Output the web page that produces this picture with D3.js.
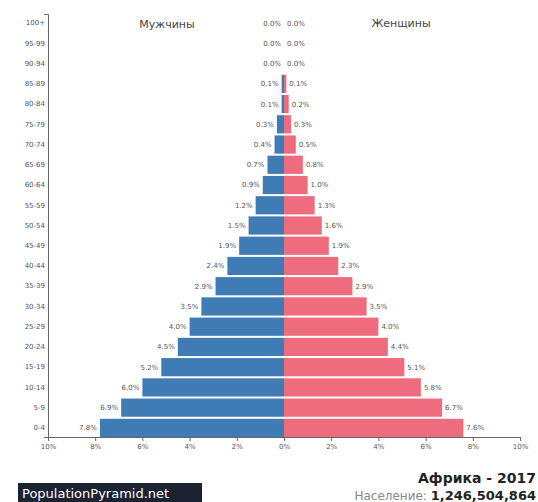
<!DOCTYPE html>
<html>
<head>
<meta charset="utf-8">
<script src="https://cdn.jsdelivr.net/npm/d3@7"></script>
<style>
 body { margin: 0; background: #fff; }
 text { font-family: "DejaVu Sans", sans-serif; }
</style>
</head>
<body>
<div id="chart"></div>
<script>
var ages = ["100+", "95-99", "90-94", "85-89", "80-84", "75-79", "70-74", "65-69", "60-64",
 "55-59", "50-54", "45-49", "40-44", "35-39", "30-34", "25-29", "20-24", "15-19", "10-14", "5-9", "0-4"];
var male = [0.0, 0.0, 0.0, 0.1, 0.1, 0.3, 0.4, 0.7, 0.9, 1.2, 1.5, 1.9, 2.4, 2.9, 3.5, 4.0, 4.5, 5.2, 6.0, 6.9, 7.8];
var female = [0.0, 0.0, 0.0, 0.1, 0.2, 0.3, 0.5, 0.8, 1.0, 1.3, 1.6, 1.9, 2.3, 2.9, 3.5, 4.0, 4.4, 5.1, 5.8, 6.7, 7.6];
var ticks = [-10, -8, -6, -4, -2, 0, 2, 4, 6, 8, 10];

var svgWidth = 538;
var svgHeight = 502;

var svg = d3.select("#chart")
 .append("svg")
   .attr("width", svgWidth)
   .attr("height", svgHeight);

var x = d3.scaleLinear()
 .domain([-10, 10])
 .range([48, 520]);

var y = d3.scaleBand()
 .domain(ages)
 .range([14, 437])
 .paddingInner(0.1);

// bars
svg.append("g")
 .selectAll("rect")
 .data(ages)
 .enter()
 .append("rect")
   .attr("x", function (d, i) { return x(-male[i]); })
   .attr("y", function (d) { return y(d); })
   .attr("width", function (d, i) { return x(0) - x(-male[i]); })
   .attr("height", y.bandwidth())
   .style("fill", "#3f7bb5");

svg.append("g")
 .selectAll("rect")
 .data(ages)
 .enter()
 .append("rect")
   .attr("x", x(0))
   .attr("y", function (d) { return y(d); })
   .attr("width", function (d, i) { return x(female[i]) - x(0); })
   .attr("height", y.bandwidth())
   .style("fill", "#ef6b7e");

// value labels
svg.append("g")
 .selectAll("text")
 .data(ages)
 .enter()
 .append("text")
   .attr("x", function (d, i) { return x(-male[i]) - 3; })
   .attr("y", function (d) { return y(d) + y.bandwidth() / 2; })
   .attr("dy", "0.35em")
   .attr("text-anchor", "end")
   .style("font-size", "7px")
   .style("fill", "#555")
   .text(function (d, i) { return male[i].toFixed(1) + "%"; });

svg.append("g")
 .selectAll("text")
 .data(ages)
 .enter()
 .append("text")
   .attr("x", function (d, i) { return x(female[i]) + 3; })
   .attr("y", function (d) { return y(d) + y.bandwidth() / 2; })
   .attr("dy", "0.35em")
   .style("font-size", "7px")
   .style("fill", "#555")
   .text(function (d, i) { return female[i].toFixed(1) + "%"; });

// axes
var xAxis = svg.append("g")
 .attr("transform", "translate(0,437)")
 .call(d3.axisBottom(x).tickValues(ticks).tickSize(4)
   .tickFormat(function (d) { return Math.abs(d) + "%"; }));
xAxis.selectAll("text").style("font-size", "7px").style("fill", "#555");
xAxis.selectAll("line, path").style("stroke", "#666");

var yAxis = svg.append("g")
 .attr("transform", "translate(" + x(-10) + ",0)")
 .call(d3.axisLeft(y).tickSizeInner(0).tickSizeOuter(4).tickPadding(3));
yAxis.selectAll("text").style("font-size", "7px").style("fill", "#555");
yAxis.select("path").style("stroke", "#666");

// headers
svg.append("text")
 .attr("x", 167).attr("y", 28)
 .attr("text-anchor", "middle")
 .style("font-size", "11px").style("fill", "#444")
 .text("Мужчины");
svg.append("text")
 .attr("x", 401).attr("y", 27)
 .attr("text-anchor", "middle")
 .style("font-size", "11px").style("fill", "#444")
 .text("Женщины");

// footer
svg.append("rect")
 .attr("x", 18).attr("y", 483)
 .attr("width", 184).attr("height", 19)
 .style("fill", "#1b2232");
svg.append("text")
 .attr("x", 22).attr("y", 498)
 .style("font-size", "13px").style("fill", "#fff")
 .text("PopulationPyramid.net");

svg.append("text")
 .attr("x", 536).attr("y", 483)
 .attr("text-anchor", "end")
 .style("font-size", "14px").style("font-weight", "bold").style("fill", "#222")
 .text("Африка - 2017");
var pop = svg.append("text")
 .attr("x", 536).attr("y", 500)
 .attr("text-anchor", "end");
pop.append("tspan").style("font-size", "12px").style("fill", "#888").text("Население: ");
pop.append("tspan").style("font-size", "13px").style("font-weight", "bold").style("fill", "#222").text("1,246,504,864");
</script>
</body>
</html>
